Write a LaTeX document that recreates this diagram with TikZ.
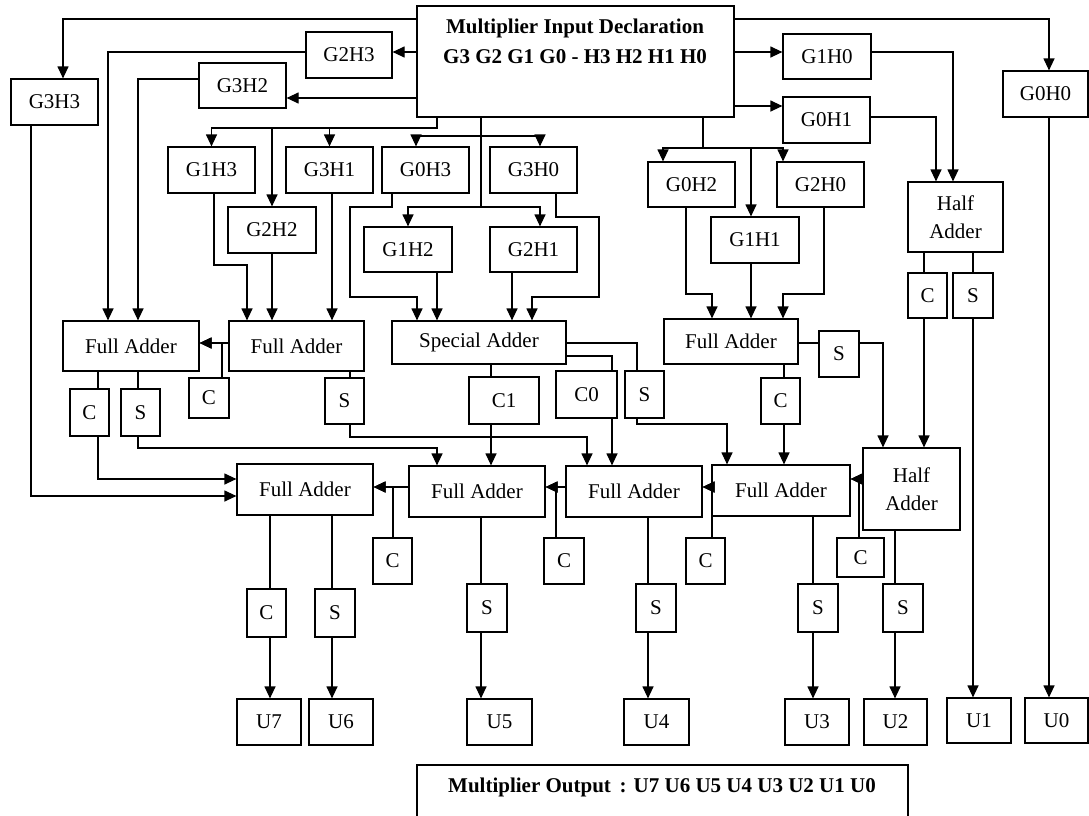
\documentclass[tikz,border=0pt]{standalone}
\usepackage{fontspec}
\setmainfont{Liberation Serif}
\usetikzlibrary{arrows.meta}
\tikzset{
  box/.style={draw, line width=1.2pt, inner sep=0pt, font=\fontsize{21}{28}\selectfont, align=center},
  arr/.style={-{Triangle[length=12pt,width=11pt]}, line width=1.2pt},
  ln/.style={line width=1.2pt},
  ttl/.style={font=\fontsize{21}{28}\selectfont\bfseries, inner sep=0pt},
}
\newcommand{\bx}[6]{\node[box, minimum width={(#4)-(#2)}, minimum height={(#5)-(#3)}] (#1) at ({((#2)+(#4))/2},{((#3)+(#5))/2}) {#6};}
\begin{document}
\begin{tikzpicture}[x=1pt,y=-1pt]
\useasboundingbox (0,0) rectangle (1089,815);
\clip (0,0) rectangle (1089,815);
% ---------- boxes ----------
\bx{main}{417}{6}{734}{117}{}
\node[ttl] (mt1) at (575,28) {Multiplier Input Declaration};
\node[ttl] (mt2) at (575,57) {G3 G2 G1 G0 - H3 H2 H1 H0};
\bx{G2H3}{306}{32}{392}{78}{G2H3}
\bx{G3H2}{199}{63}{286}{108}{G3H2}
\bx{G3H3}{11}{79}{98}{125}{G3H3}
\bx{G1H0}{783}{34}{871}{79}{G1H0}
\bx{G0H1}{783}{97}{870}{143}{G0H1}
\bx{G0H0}{1003}{71}{1088}{117}{G0H0}
\bx{G1H3}{168}{147}{255}{193}{G1H3}
\bx{G3H1}{286}{147}{373}{193}{G3H1}
\bx{G0H3}{382}{147}{469}{193}{G0H3}
\bx{G3H0}{490}{147}{577}{193}{G3H0}
\bx{G2H2}{228}{207}{316}{253}{G2H2}
\bx{G1H2}{364}{227}{452}{272}{G1H2}
\bx{G2H1}{490}{227}{577}{272}{G2H1}
\bx{G0H2}{648}{162}{735}{207}{G0H2}
\bx{G2H0}{777}{162}{864}{207}{G2H0}
\bx{G1H1}{711}{217}{799}{263}{G1H1}
\bx{HA1}{908}{182}{1003}{252}{Half\\Adder}
\bx{HA1C}{908}{273}{947}{318}{C}
\bx{HA1S}{953}{273}{993}{318}{S}
\bx{FA1}{63}{321}{199}{371}{Full Adder}
\bx{FA2}{229}{321}{364}{371}{Full Adder}
\bx{SA}{392}{321}{566}{364}{Special Adder}
\bx{FA3}{664}{319}{798}{364}{Full Adder}
\bx{FA1C}{70}{389}{109}{436}{C}
\bx{FA1S}{121}{389}{160}{436}{S}
\bx{FA2C}{189}{378}{229}{418}{C}
\bx{FA2S}{325}{378}{364}{424}{S}
\bx{C1}{469}{377}{539}{424}{C1}
\bx{C0}{556}{371}{617}{418}{C0}
\bx{SAS}{625}{371}{664}{418}{S}
\bx{FA3S}{819}{331}{859}{377}{S}
\bx{FA3C}{761}{378}{800}{424}{C}
\bx{FAb1}{237}{464}{373}{515}{Full Adder}
\bx{FAb2}{409}{466}{545}{517}{Full Adder}
\bx{FAb3}{566}{466}{702}{517}{Full Adder}
\bx{FAb4}{712}{465}{850}{516}{Full Adder}
\bx{HA2}{863}{448}{960}{530}{Half\\Adder}
\bx{FAb2C}{373}{538}{412}{584}{C}
\bx{FAb3C}{544}{538}{584}{584}{C}
\bx{FAb4C}{686}{538}{725}{584}{C}
\bx{HA2C}{837}{538}{884}{577}{C}
\bx{FAb1C}{247}{589}{286}{637}{C}
\bx{FAb1S}{315}{589}{355}{637}{S}
\bx{FAb2S}{467}{584}{507}{632}{S}
\bx{FAb3S}{636}{584}{676}{632}{S}
\bx{FAb4S}{798}{584}{838}{632}{S}
\bx{HA2S}{883}{584}{923}{632}{S}
\bx{U7}{237}{699}{301}{745}{U7}
\bx{U6}{309}{699}{373}{745}{U6}
\bx{U5}{467}{699}{532}{745}{U5}
\bx{U4}{624}{699}{689}{745}{U4}
\bx{U3}{785}{699}{849}{745}{U3}
\bx{U2}{864}{699}{927}{745}{U2}
\bx{U1}{947}{698}{1011}{743}{U1}
\bx{U0}{1025}{698}{1088}{743}{U0}
\bx{out}{417}{765}{908}{860}{}
\node[ttl] (ot) at (662,787) {Multiplier Output\, : U7 U6 U5 U4 U3 U2 U1 U0};
% ---------- from input declaration ----------
\draw[arr] (main.west |- 0,19) -| (63,0 |- G3H3.north);
\draw[arr] (main.west |- 0,52) -- (G2H3.east |- 0,52);
\draw[arr] (main.west |- 0,98) -- (G3H2.east |- 0,98);
\draw[arr] (main.east |- 0,19) -| (1049,0 |- G0H0.north);
\draw[arr] (main.east |- 0,52) -- (G1H0.west |- 0,52);
\draw[arr] (main.east |- 0,106) -- (G0H1.west |- 0,106);
\draw[arr] (437,0 |- main.south) |- (G1H3.north |- 0,128) -- (G1H3.north);
\draw[arr] (437,0 |- main.south) |- (G2H2.north |- 0,128) -- (G2H2.north);
\draw[arr] (437,0 |- main.south) |- (G3H1.north |- 0,128) -- (G3H1.north);
\draw[arr] (481,0 |- main.south) |- (416,136) -- (416,0 |- G0H3.north);
\draw[arr] (481,0 |- main.south) |- (540,136) -- (540,0 |- G3H0.north);
\draw[arr] (481,0 |- main.south) |- (G1H2.north |- 0,207) -- (G1H2.north);
\draw[arr] (481,0 |- main.south) |- (540,207) -- (540,0 |- G2H1.north);
\draw[arr] (703,0 |- main.south) |- (663,148) -- (663,0 |- G0H2.north);
\draw[arr] (703,0 |- main.south) |- (783,148) -- (783,0 |- G2H0.north);
\draw[arr] (703,0 |- main.south) |- (751,148) -- (751,0 |- G1H1.north);
% ---------- partial products to adders ----------
\draw[arr] (G2H3.west |- 0,52) -| (108,0 |- FA1.north);
\draw[arr] (G3H2.west |- 0,79) -| (138,0 |- FA1.north);
\draw[arr] (31,0 |- G3H3.south) |- (FAb1.west |- 0,496);
\draw[arr] (214,0 |- G1H3.south) |- (247,265) -- (247,0 |- FA2.north);
\draw[arr] (G2H2.south) -- (G2H2.south |- FA2.north);
\draw[arr] (332,0 |- G3H1.south) -- (332,0 |- FA2.north);
\draw[arr] (392,0 |- G0H3.south) |- (350,207) |- (417,297) -- (417,0 |- SA.north);
\draw[arr] (437,0 |- G1H2.south) -- (437,0 |- SA.north);
\draw[arr] (512,0 |- G2H1.south) -- (512,0 |- SA.north);
\draw[arr] (556,0 |- G3H0.south) |- (599,217) |- (532,297) -- (532,0 |- SA.north);
\draw[arr] (686,0 |- G0H2.south) |- (712,294) -- (712,0 |- FA3.north);
\draw[arr] (751,0 |- G1H1.south) -- (751,0 |- FA3.north);
\draw[arr] (824,0 |- G2H0.south) |- (783,294) -- (783,0 |- FA3.north);
\draw[arr] (G1H0.east |- 0,52) -| (953,0 |- HA1.north);
\draw[arr] (G0H1.east |- 0,117) -| (936,0 |- HA1.north);
\draw[arr] (1049,0 |- G0H0.south) -- (1049,0 |- U0.north);
% ---------- first adder stage ----------
\draw[ln] (924,0 |- HA1.south) -- (924,0 |- HA1C.north);
\draw[ln] (973,0 |- HA1.south) -- (973,0 |- HA1S.north);
\draw[arr] (924,0 |- HA1C.south) -- (924,0 |- HA2.north);
\draw[arr] (973,0 |- HA1S.south) -- (973,0 |- U1.north);
\draw[arr] (FA2.west |- 0,343) -- (FA1.east |- 0,343);
\draw[arr] (222,0 |- FA2C.north) |- (FA1.east |- 0,343);
\draw[ln] (98,0 |- FA1.south) -- (98,0 |- FA1C.north);
\draw[ln] (138,0 |- FA1.south) -- (138,0 |- FA1S.north);
\draw[arr] (98,0 |- FA1C.south) |- (FAb1.west |- 0,479);
\draw[arr] (138,0 |- FA1S.south) |- (437,448) -- (437,0 |- FAb2.north);
\draw[ln] (350,0 |- FA2.south) -- (350,0 |- FA2S.north);
\draw[arr] (350,0 |- FA2S.south) |- (587,437) -- (587,0 |- FAb3.north);
\draw[ln] (491,0 |- SA.south) -- (491,0 |- C1.north);
\draw[arr] (491,0 |- C1.south) -- (491,0 |- FAb2.north);
\draw[ln] (SA.east |- 0,356) -| (612,0 |- C0.north);
\draw[arr] (612,0 |- C0.south) -- (612,0 |- FAb3.north);
\draw[ln] (SA.east |- 0,343) -| (637,0 |- SAS.north);
\draw[arr] (637,0 |- SAS.south) |- (727,424) -- (727,0 |- FAb4.north);
\draw[ln] (FA3.east |- 0,343) -- (FA3S.west |- 0,343);
\draw[arr] (FA3S.east |- 0,343) -| (883,0 |- HA2.north);
\draw[ln] (784,0 |- FA3.south) -- (784,0 |- FA3C.north);
\draw[arr] (784,0 |- FA3C.south) -- (784,0 |- FAb4.north);
% ---------- second adder stage ----------
\draw[arr] (HA2.west |- 0,479) -- (FAb4.east |- 0,479);
\draw[arr] (859,0 |- HA2C.north) |- (FAb4.east |- 0,479);
\draw[arr] (FAb4.west |- 0,487) -- (FAb3.east |- 0,487);
\draw[arr] (712,0 |- FAb4C.north) |- (FAb3.east |- 0,487);
\draw[arr] (FAb3.west |- 0,487) -- (FAb2.east |- 0,487);
\draw[arr] (556,0 |- FAb3C.north) |- (FAb2.east |- 0,487);
\draw[arr] (FAb2.west |- 0,487) -- (FAb1.east |- 0,487);
\draw[arr] (393,0 |- FAb2C.north) |- (FAb1.east |- 0,487);
% ---------- outputs ----------
\draw[ln] (270,0 |- FAb1.south) -- (270,0 |- FAb1C.north);
\draw[arr] (270,0 |- FAb1C.south) -- (270,0 |- U7.north);
\draw[ln] (332,0 |- FAb1.south) -- (332,0 |- FAb1S.north);
\draw[arr] (332,0 |- FAb1S.south) -- (332,0 |- U6.north);
\draw[ln] (481,0 |- FAb2.south) -- (481,0 |- FAb2S.north);
\draw[arr] (481,0 |- FAb2S.south) -- (481,0 |- U5.north);
\draw[ln] (648,0 |- FAb3.south) -- (648,0 |- FAb3S.north);
\draw[arr] (648,0 |- FAb3S.south) -- (648,0 |- U4.north);
\draw[ln] (813,0 |- FAb4.south) -- (813,0 |- FAb4S.north);
\draw[arr] (813,0 |- FAb4S.south) -- (813,0 |- U3.north);
\draw[ln] (895,0 |- HA2.south) -- (895,0 |- HA2S.north);
\draw[arr] (895,0 |- HA2S.south) -- (895,0 |- U2.north);
\end{tikzpicture}
\end{document}
